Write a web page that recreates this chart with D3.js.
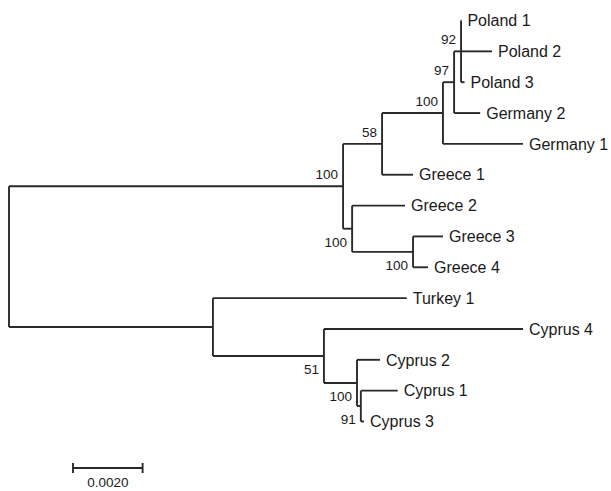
<!DOCTYPE html>
<html>
<head>
<meta charset="utf-8">
<script src="https://cdn.jsdelivr.net/npm/d3@7"></script>
<style>
  body { margin: 0; background: #fff; }
  text { font-family: "Liberation Sans", Arial, sans-serif; fill: #1a1a1a; }
</style>
</head>
<body>
<svg id="chart" width="611" height="491"></svg>
<script>
// tree as parent table (order of rows = order of children)
const nodeIds = ["root", "A", "B", "E", "F", "G", "Poland 1", "Poland 2", "Poland 3", "Germany 2",
  "Germany 1", "Greece 1", "C", "Greece 2", "D", "Greece 3", "Greece 4", "H", "Turkey 1", "I",
  "Cyprus 4", "J", "Cyprus 2", "K", "Cyprus 1", "Cyprus 3"];
const parentIds = ["", "root", "A", "B", "E", "F", "G", "G", "G", "F",
  "E", "B", "A", "C", "C", "D", "D", "root", "H", "H",
  "I", "I", "J", "J", "K", "K"];
const branchLengths = [0, 0.00960, 0.00112, 0.00175, 0.00032, 0.00020, 0.00001, 0.00089, 0.00010, 0.00075,
  0.00230, 0.00089, 0.00026, 0.00152, 0.00175, 0.00086, 0.00043, 0.00586, 0.00557, 0.00319,
  0.00572, 0.00095, 0.00066, 0.00011, 0.00106, 0.00009];
const bootstrap = [null, 100, 58, 100, 97, 92, null, null, null, null,
  null, null, 100, null, 100, null, null, null, null, 51,
  null, 100, null, 91, null, null];
const scaleBarValue = 0.0020;
const scaleBarLabel = "0.0020";

const rows = nodeIds.map((id, i) => ({
  id, parent: parentIds[i] || null, length: branchLengths[i], support: bootstrap[i]
}));

const root = d3.stratify().id(d => d.id).parentId(d => d.parent)(rows);

let svg = d3.select("#chart");

// x: branch length from root
let x = d3.scaleLinear().domain([0, scaleBarValue]).range([9, 9 + 69.6]);
root.eachBefore(n => { n.dist = n.parent ? n.parent.dist + n.data.length : 0; });

// y: leaves evenly spaced, internal nodes at the middle of their children
let leaves = root.leaves().map(d => d.id);
let y = d3.scalePoint().domain(leaves).range([20.5, 421.5]);
root.eachAfter(n => {
  if (!n.children) n.y = y(n.id);
  else n.y = (n.children[0].y + n.children[n.children.length - 1].y) / 2;
});

let g = svg.append("g")
  .attr("stroke", "#2a2a2a")
  .attr("stroke-width", 1.9)
  .attr("fill", "none");

// horizontal branches
g.selectAll("line.h")
  .data(root.descendants().filter(d => d.parent))
  .join("line")
  .attr("class", "h")
  .attr("x1", d => x(d.parent.dist))
  .attr("x2", d => x(d.dist))
  .attr("y1", d => d.y)
  .attr("y2", d => d.y);

// vertical connectors
g.selectAll("line.v")
  .data(root.descendants().filter(d => d.children))
  .join("line")
  .attr("class", "v")
  .attr("x1", d => x(d.dist))
  .attr("x2", d => x(d.dist))
  .attr("y1", d => d.children[0].y)
  .attr("y2", d => d.children[d.children.length - 1].y);

// taxon names
svg.selectAll("text.leaf")
  .data(root.leaves())
  .join("text")
  .attr("class", "leaf")
  .attr("x", d => x(d.dist) + 6)
  .attr("y", d => d.y)
  .attr("dy", "0.36em")
  .attr("font-size", 16)
  .text(d => d.id);

// bootstrap values: above the branch for upper children, below for lower ones
svg.selectAll("text.boot")
  .data(root.descendants().filter(d => d.data.support != null))
  .join("text")
  .attr("class", "boot")
  .attr("x", d => x(d.dist) - 5)
  .attr("y", d => d.parent.children[0] === d ? d.y - 12 : d.y + 13)
  .attr("dy", "0.36em")
  .attr("text-anchor", "end")
  .attr("font-size", 13.5)
  .text(d => d.data.support);

// scale bar
let barX = 73, barY = 468;
let barLen = x(scaleBarValue) - x(0);
let bar = svg.append("g").attr("stroke", "#2a2a2a").attr("stroke-width", 1.9);
bar.append("line").attr("x1", barX).attr("x2", barX + barLen).attr("y1", barY).attr("y2", barY);
bar.append("line").attr("x1", barX).attr("x2", barX).attr("y1", barY - 5).attr("y2", barY + 5);
bar.append("line").attr("x1", barX + barLen).attr("x2", barX + barLen).attr("y1", barY - 5).attr("y2", barY + 5);
svg.append("text")
  .attr("x", barX + barLen / 2)
  .attr("y", barY + 14)
  .attr("dy", "0.36em")
  .attr("text-anchor", "middle")
  .attr("font-size", 13.5)
  .text(scaleBarLabel);
</script>
</body>
</html>
